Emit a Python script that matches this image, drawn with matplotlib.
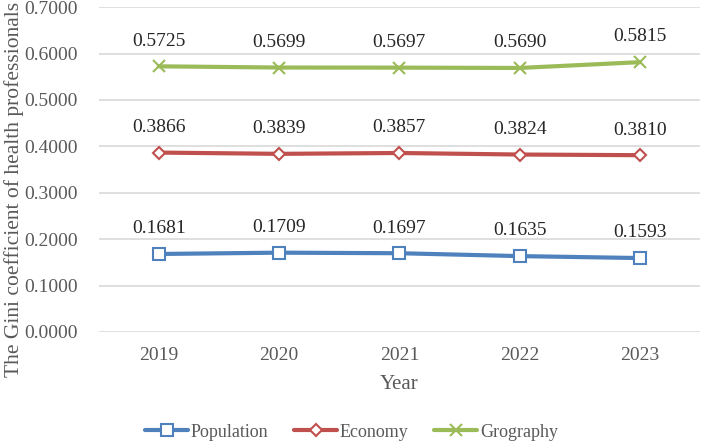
import matplotlib.pyplot as plt
from matplotlib.ticker import FormatStrFormatter

years = ["2019", "2020", "2021", "2022", "2023"]
population = [0.1681, 0.1709, 0.1697, 0.1635, 0.1593]
economy = [0.3866, 0.3839, 0.3857, 0.3824, 0.3810]
geography = [0.5725, 0.5699, 0.5697, 0.5690, 0.5815]

plt.rcParams["font.family"] = ["Liberation Serif", "DejaVu Serif"]
text_col = "#595959"

fig = plt.figure(figsize=(7.10, 4.48), dpi=100)
ax = fig.add_axes([0.139, 0.259, 0.847, 0.725])

x = range(len(years))
series = [
    ("Population", population, "#4F81BD", "s", 8),
    ("Economy", economy, "#C0504D", "D", 6.5),
    ("Grography", geography, "#9BBB59", "x", 8),
]
for name, vals, col, mk, ms in series:
    if mk == "x":
        ax.plot(x, vals, color=col, lw=3, marker=mk, ms=ms, mew=1.5,
                mec=col, label=name, solid_capstyle="round")
    else:
        ax.plot(x, vals, color=col, lw=3, marker=mk, ms=ms, mew=1.5,
                mec=col, mfc="white", label=name, solid_capstyle="round")
    for xi, v in zip(x, vals):
        ax.annotate(f"{v:.4f}", (xi, v), xytext=(0, 12), textcoords="offset points",
                    ha="center", va="bottom", fontsize=14, color="#262626")

ax.set_ylim(0, 0.7)
ax.set_xlim(-0.5, len(years) - 0.5)
ax.set_yticks([i / 10 for i in range(8)])
ax.yaxis.set_major_formatter(FormatStrFormatter("%.4f"))
ax.set_xticks(list(x))
ax.set_xticklabels(years)
ax.grid(axis="y", color="#d9d9d9", lw=1.2)
ax.set_axisbelow(True)
for s in ax.spines.values():
    s.set_visible(False)
ax.tick_params(axis="y", length=0, labelsize=14, colors=text_col, pad=15)
ax.tick_params(axis="x", length=0, labelsize=14, colors=text_col, pad=11)
ax.set_xlabel("Year", fontsize=15, color=text_col, labelpad=8)
ax.set_ylabel("The Gini coefficient of health professionals", fontsize=15.5,
              color=text_col)
ax.yaxis.set_label_coords(-0.125, 0.44)

leg = fig.legend(loc="lower center", ncol=3, frameon=False, fontsize=13,
                 bbox_to_anchor=(0.495, -0.02), handlelength=2.4, columnspacing=1.4,
                 handletextpad=0.15)
for t in leg.get_texts():
    t.set_color(text_col)

fig.savefig("out.png", dpi=100)
